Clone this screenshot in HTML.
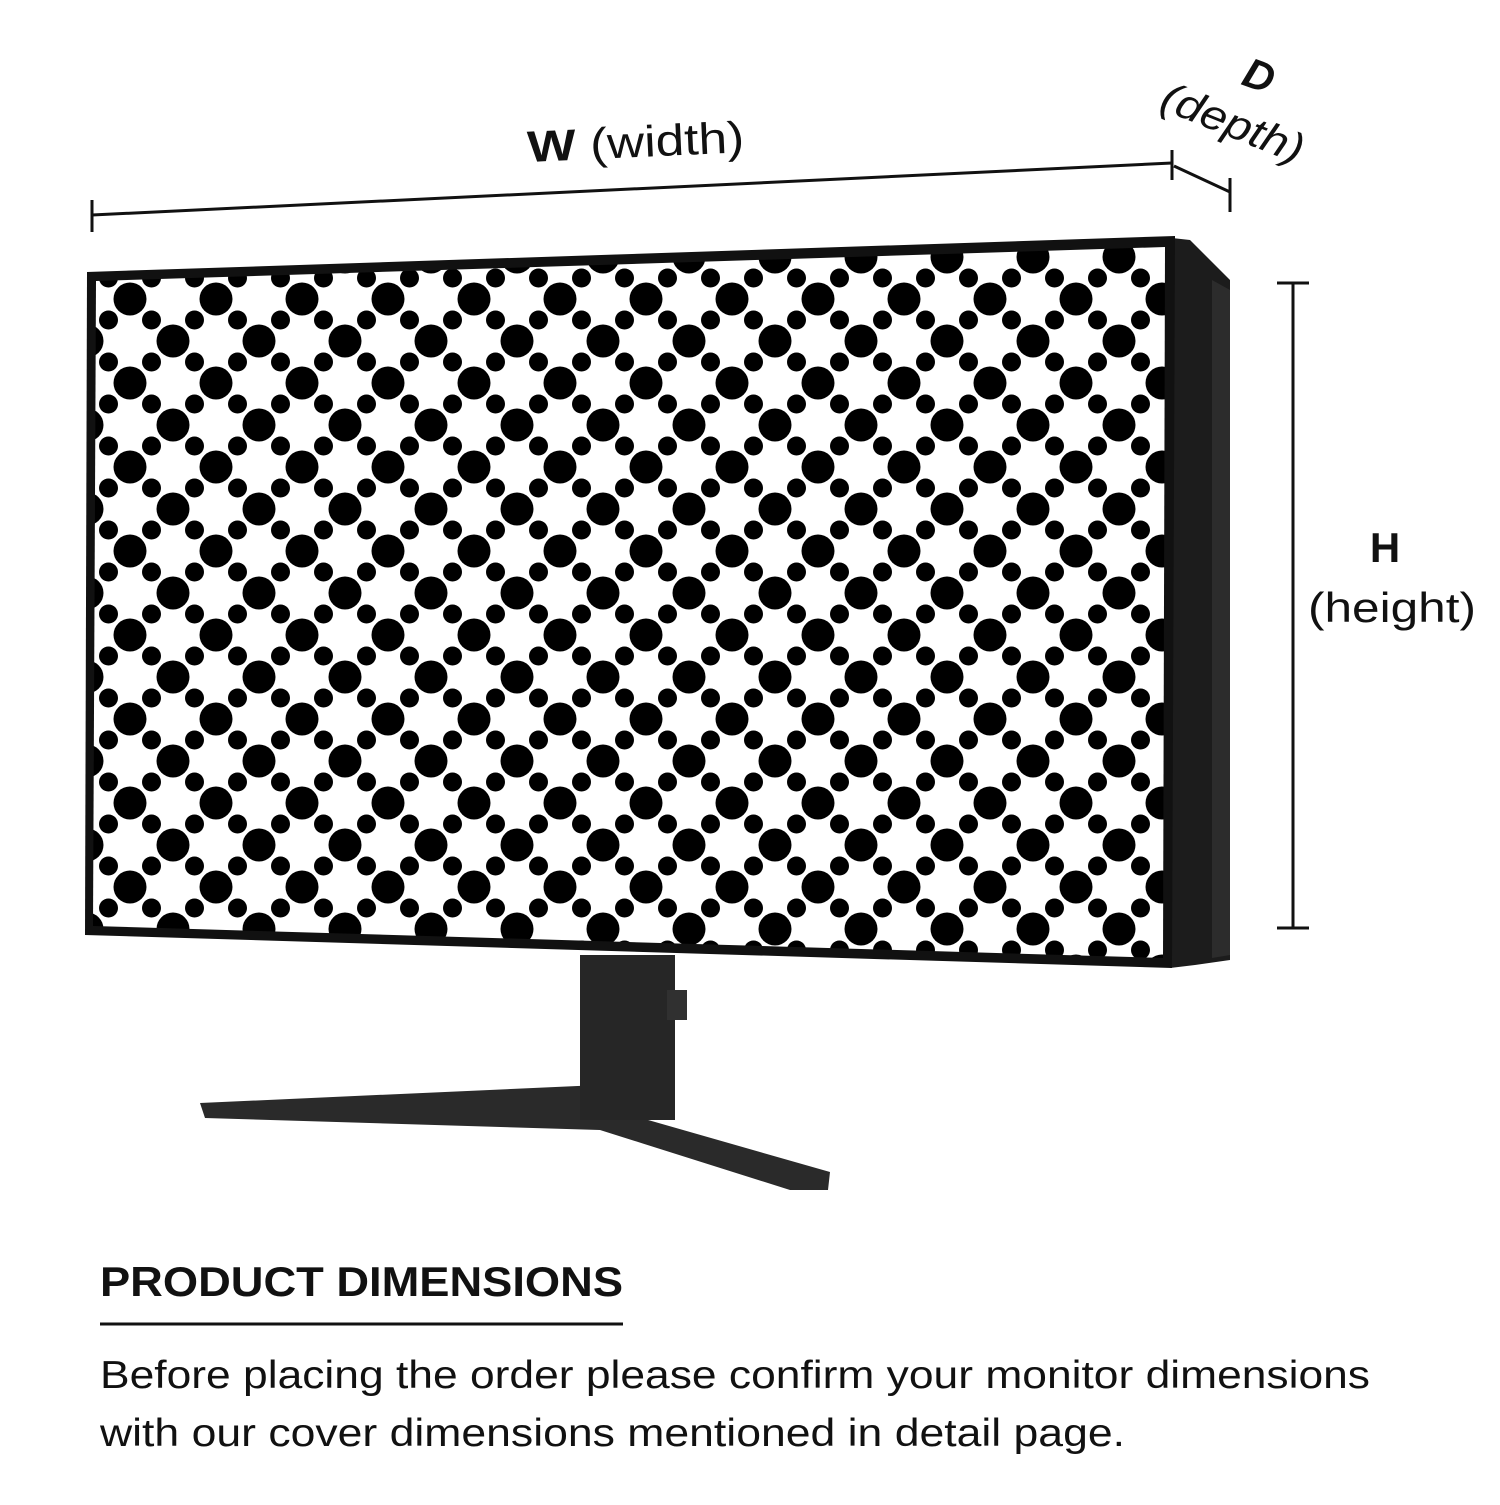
<!DOCTYPE html>
<html><head><style>
body{margin:0;width:1500px;height:1500px;background:#fff;overflow:hidden;font-family:"Liberation Sans","DejaVu Sans",sans-serif}
</style></head><body>
<svg width="1500" height="1500" viewBox="0 0 1500 1500" xmlns="http://www.w3.org/2000/svg">
<defs>
<pattern id="dots" x="44" y="47" width="86" height="84" patternUnits="userSpaceOnUse">
<rect width="86" height="84" fill="#fff"/>
<g fill="#000">
<circle cx="0" cy="0" r="16.5"/><circle cx="86" cy="0" r="16.5"/><circle cx="0" cy="84" r="16.5"/><circle cx="86" cy="84" r="16.5"/>
<circle cx="43" cy="42" r="16.5"/>
<circle cx="21.5" cy="21" r="9.5"/><circle cx="64.5" cy="21" r="9.5"/><circle cx="21.5" cy="63" r="9.5"/><circle cx="64.5" cy="63" r="9.5"/>
</g>
</pattern>
</defs>
<!-- stand -->
<path d="M200,1103 L600,1085 L620,1112 L830,1172 L828,1190 L790,1190 L600,1130 L205,1118 Z" fill="#2a2a2a"/>
<rect x="580" y="955" width="95" height="165" fill="#262626"/>
<rect x="667" y="990" width="20" height="30" fill="#303030"/>
<!-- side panel -->
<polygon points="1172,238 1190,240 1230,280 1230,960 1195,965 1170,968" fill="#1c1c1c"/>
<polygon points="1212,280 1230,290 1230,955 1212,958" fill="#2c2c2c"/>
<!-- screen frame -->
<polygon points="87,272 1175,236 1172,968 85,935" fill="#111"/>
<polygon points="96,281 1165,247 1163,958 93,926" fill="url(#dots)"/>
<!-- dimension lines -->
<g stroke="#111" stroke-width="3" fill="none">
<line x1="92" y1="215" x2="1172" y2="163"/>
<line x1="92" y1="200" x2="92" y2="232"/>
<line x1="1172" y1="150" x2="1172" y2="180"/>
<line x1="1174" y1="166" x2="1230" y2="192"/>
<line x1="1230" y1="178" x2="1230" y2="212"/>
<line x1="1293" y1="283" x2="1293" y2="928"/>
<line x1="1277" y1="283" x2="1309" y2="283"/>
<line x1="1277" y1="928" x2="1309" y2="928"/>
</g>
<text x="528" y="162" font-size="44" fill="#111" transform="rotate(-2.6 528 162)" textLength="217" lengthAdjust="spacingAndGlyphs"><tspan font-weight="bold">W</tspan> (width)</text>
<text x="1240" y="84" font-size="42" font-weight="bold" font-style="italic" fill="#111" transform="rotate(20 1240 84)">D</text>
<text x="1158" y="108" font-size="42" font-style="italic" fill="#111" transform="rotate(22 1158 108)" textLength="150" lengthAdjust="spacingAndGlyphs">(depth)</text>
<text x="1385" y="562" font-size="42" font-weight="bold" fill="#111" text-anchor="middle">H</text>
<text x="1308" y="622" font-size="42" fill="#111" textLength="168" lengthAdjust="spacingAndGlyphs">(height)</text>
<text x="100" y="1296" font-size="42" font-weight="bold" fill="#111" textLength="523" lengthAdjust="spacingAndGlyphs">PRODUCT DIMENSIONS</text>
<line x1="100" y1="1324" x2="623" y2="1324" stroke="#111" stroke-width="3"/>
<text x="100" y="1388" font-size="39" fill="#111" textLength="1270" lengthAdjust="spacingAndGlyphs">Before placing the order please confirm your monitor dimensions</text>
<text x="100" y="1446" font-size="39" fill="#111" textLength="1025" lengthAdjust="spacingAndGlyphs">with our cover dimensions mentioned in detail page.</text>
</svg>
</body></html>
